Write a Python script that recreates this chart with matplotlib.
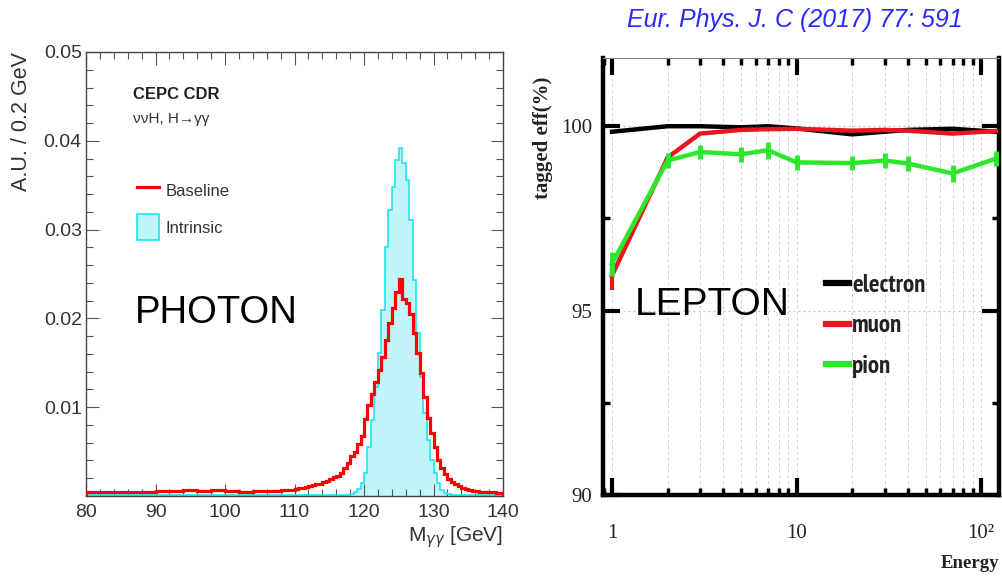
import numpy as np
import matplotlib
matplotlib.use("Agg")
import matplotlib.pyplot as plt
from matplotlib.lines import Line2D
from matplotlib.patches import Patch
from matplotlib.ticker import MultipleLocator, LogLocator, NullFormatter

# --- PHOTON: diphoton mass, bins 2 GeV below 110, 0.5 GeV above ---
edges = np.concatenate([np.arange(80, 110, 2), np.arange(110, 140.01, 0.5)])

baseline_lo = [0.0004, 0.0004, 0.0005, 0.0005, 0.0005, 0.0006, 0.0006, 0.0007,
               0.0006, 0.0007, 0.0006, 0.0005, 0.0006, 0.0006, 0.0007]
baseline_hi = [0.0008, 0.0009, 0.0009, 0.0010, 0.0011, 0.0012, 0.0013, 0.0014, 0.0016, 0.0017,
               0.0019, 0.0021, 0.0023, 0.0026, 0.0031, 0.0037, 0.0045, 0.0050, 0.0058, 0.0068,
               0.0087, 0.0102, 0.0115, 0.0128, 0.0142, 0.0157, 0.0176, 0.0195, 0.0212, 0.0230,
               0.0244, 0.0222, 0.0217, 0.0205, 0.0184, 0.0161, 0.0138, 0.0112, 0.0088, 0.0071,
               0.0055, 0.0041, 0.0031, 0.0025, 0.0019, 0.0016, 0.0013, 0.0011, 0.0009, 0.0008,
               0.0007, 0.0006, 0.0006, 0.0005, 0.0005, 0.0004, 0.0004, 0.0004, 0.0003, 0.0003]
intrinsic_lo = [0.0001] * 15
intrinsic_hi = [0.0001, 0.0001, 0.0001, 0.0001, 0.0001, 0.0001, 0.0001, 0.0001,
                0.0001, 0.0001, 0.0001, 0.0001, 0.0001, 0.0001, 0.0001, 0.0001,
                0.0002, 0.0004, 0.0008, 0.0015,
                0.0026, 0.0055, 0.0086, 0.0123, 0.0161, 0.0210, 0.0280, 0.0322, 0.0348, 0.0378,
                0.0392, 0.0375, 0.0356, 0.0311, 0.0243, 0.0184, 0.0134, 0.0093, 0.0063, 0.0041,
                0.0026, 0.0015, 0.0007, 0.0003, 0.0002,
                0.0001, 0.0001, 0.0001, 0.0001, 0.0001, 0.0001, 0.0001, 0.0001,
                0.0001, 0.0001, 0.0001, 0.0001, 0.0001, 0.0001, 0.0001]
baseline = np.array(baseline_lo + baseline_hi)
intrinsic = np.array(intrinsic_lo + intrinsic_hi)

# --- LEPTON: tagging efficiency vs energy ---
energy = [1, 2, 3, 5, 7, 10, 20, 30, 40, 70, 120]
electron = [99.85, 100.0, 100.0, 99.97, 100.0, 99.94, 99.78, 99.85, 99.90, 99.93, 99.85]
muon = [95.95, 99.15, 99.80, 99.90, 99.92, 99.93, 99.88, 99.90, 99.88, 99.80, 99.87]
muon_err = [0.40, 0.05, 0.05, 0.05, 0.05, 0.05, 0.05, 0.05, 0.05, 0.05, 0.05]
pion = [96.27, 99.07, 99.30, 99.24, 99.35, 99.02, 99.00, 99.07, 98.99, 98.72, 99.12]
pion_err = [0.32, 0.20, 0.20, 0.20, 0.23, 0.20, 0.20, 0.20, 0.20, 0.22, 0.20]

sans = ["Liberation Sans", "DejaVu Sans"]
serif = ["Liberation Serif", "DejaVu Serif"]
narrow = ["PT Sans Narrow", "Roboto Condensed", "DejaVu Sans"]

W, H = 1002, 583
fig = plt.figure(figsize=(W / 100, H / 100), dpi=100)

def box(l, t, r, b):
    return [l / W, 1 - b / H, (r - l) / W, (b - t) / H]

# ================= left panel =================
ax1 = fig.add_axes(box(86, 52, 503, 496))
ax1.stairs(intrinsic, edges, fill=True, color="#bff5fb", zorder=1)
ax1.stairs(intrinsic, edges, color="#1ee6f2", lw=1.2, zorder=2)
ax1.stairs(baseline, edges, color="#ff0000", lw=2.3, zorder=3)
ax1.set_xlim(80, 140)
ax1.set_ylim(0, 0.05)
ax1.set_xticks([80, 90, 100, 110, 120, 130, 140])
ax1.set_yticks([0.01, 0.02, 0.03, 0.04, 0.05])
ax1.set_yticklabels(["0.01", "0.02", "0.03", "0.04", "0.05"])
ax1.xaxis.set_minor_locator(MultipleLocator(2))
ax1.yaxis.set_minor_locator(MultipleLocator(0.002))
ax1.tick_params(which="both", direction="in", top=True, right=True,
                color="#555", labelcolor="#333")
ax1.tick_params(which="major", length=9, width=0.8, labelsize=14)
ax1.tick_params(which="minor", length=5, width=0.8)
ax1.tick_params(axis="x", pad=6)
ax1.tick_params(axis="y", pad=3)
for lab in ax1.get_xticklabels() + ax1.get_yticklabels():
    lab.set_family(sans)
for s in ax1.spines.values():
    s.set_color("#444")
    s.set_linewidth(1.0)

fig.text(22 / W, 1 - 52 / H, "A.U. / 0.2 GeV", rotation=90, ha="center", va="top",
         fontsize=15.5, color="#333", family=sans)
fig.text(503 / W, 1 - 537 / H, r"M$_{\gamma\gamma}$ [GeV]", ha="right", va="center",
         fontsize=15, color="#333", family=sans)

ax1.text(0.113, 0.905, "CEPC CDR", transform=ax1.transAxes, fontsize=12,
         fontweight="bold", color="#222", family=sans, va="center")
ax1.text(0.113, 0.848, "ννH, H→γγ", transform=ax1.transAxes, fontsize=11,
         color="#333", family=sans, va="center")

h1 = [Line2D([], [], color="#ff0000", lw=2.3),
      Patch(facecolor="#bff5fb", edgecolor="#1ee6f2", lw=1.2)]
leg1 = ax1.legend(h1, ["Baseline", "Intrinsic"], loc="upper left",
                  bbox_to_anchor=(0.122, 0.7165), frameon=False,
                  prop={"family": sans, "size": 12}, handlelength=1.3,
                  handleheight=2.05, labelspacing=0.6, handletextpad=0.4,
                  borderpad=0, borderaxespad=0)
for t in leg1.get_texts():
    t.set_color("#333")

ax1.text(0.1175, 0.412, "PHOTON", transform=ax1.transAxes, fontsize=27.5,
         family=sans, va="center", color="black")

# ================= right panel =================
ax2 = fig.add_axes(box(603, 58, 999, 495))
ax2.set_xscale("log")
ax2.errorbar(energy, electron, color="black", lw=3.2, zorder=3)
ax2.errorbar(energy, muon, yerr=muon_err, color="#e8161e", lw=3.2,
             elinewidth=3, capsize=0, zorder=4)
ax2.errorbar(energy, pion, yerr=pion_err, color="#2be82b", lw=3.2,
             elinewidth=3.5, capsize=0, zorder=5)
ax2.set_xlim(0.894, 125)
ax2.set_ylim(90, 101.85)
ax2.set_xticks([1, 10, 100])
ax2.set_xticklabels(["1", "10", "10²"])
ax2.xaxis.set_minor_locator(LogLocator(base=10, subs=np.arange(2, 10)))
ax2.xaxis.set_minor_formatter(NullFormatter())
ax2.set_yticks([90, 95, 100])
ax2.yaxis.set_minor_locator(MultipleLocator(2.5))
ax2.tick_params(which="both", direction="in", top=True, right=True,
                color="black", labelcolor="#222")
ax2.tick_params(which="major", length=12, width=3, labelsize=15)
ax2.tick_params(which="minor", length=5, width=2.5)
ax2.tick_params(axis="x", pad=21)
ax2.tick_params(axis="y", pad=8)
for lab in ax2.get_xticklabels() + ax2.get_yticklabels():
    lab.set_family(serif)
ax2.grid(True, which="both", axis="x", ls=(0, (3, 3)), color="#d0d0d0", lw=0.7)
ax2.grid(True, which="major", axis="y", ls=(0, (1.5, 2.5)), color="#c0c0c0", lw=0.9)
ax2.set_axisbelow(True)
for side in ["left", "bottom", "right"]:
    ax2.spines[side].set_linewidth(3.2)
    ax2.spines[side].set_color("black")
ax2.spines["top"].set_linewidth(0.8)
ax2.spines["top"].set_color("#888")

h2 = [Line2D([], [], color="black", lw=4.5),
      Line2D([], [], color="#e8161e", lw=4.5),
      Line2D([], [], color="#2be82b", lw=4.5)]
leg2 = ax2.legend(h2, ["electron", "muon", "pion"], loc="upper left",
                  bbox_to_anchor=(0.562, 0.506), frameon=False,
                  prop={"family": narrow, "size": 18, "weight": "bold"},
                  handlelength=0.95, handletextpad=0.12, labelspacing=0.7,
                  borderpad=0, borderaxespad=0)
for t in leg2.get_texts():
    t.set_color("#222")

ax2.text(0.0806, 0.435, "LEPTON", transform=ax2.transAxes, fontsize=28,
         family=sans, va="center", color="black")

fig.text(543 / W, 1 - 138 / H, "tagged eff(%)", rotation=90, ha="center", va="center",
         fontsize=15, fontweight="bold", color="#222", family=serif)
fig.text(999 / W, 1 - 563 / H, "Energy", ha="right", va="center",
         fontsize=13.5, fontweight="bold", color="#222", family=serif)
fig.text(795 / W, 1 - 20 / H, "Eur. Phys. J. C (2017) 77: 591", ha="center", va="center",
         fontsize=18, style="italic", color="#2a2aff", family=sans)

fig.savefig("out.png", dpi=100)
